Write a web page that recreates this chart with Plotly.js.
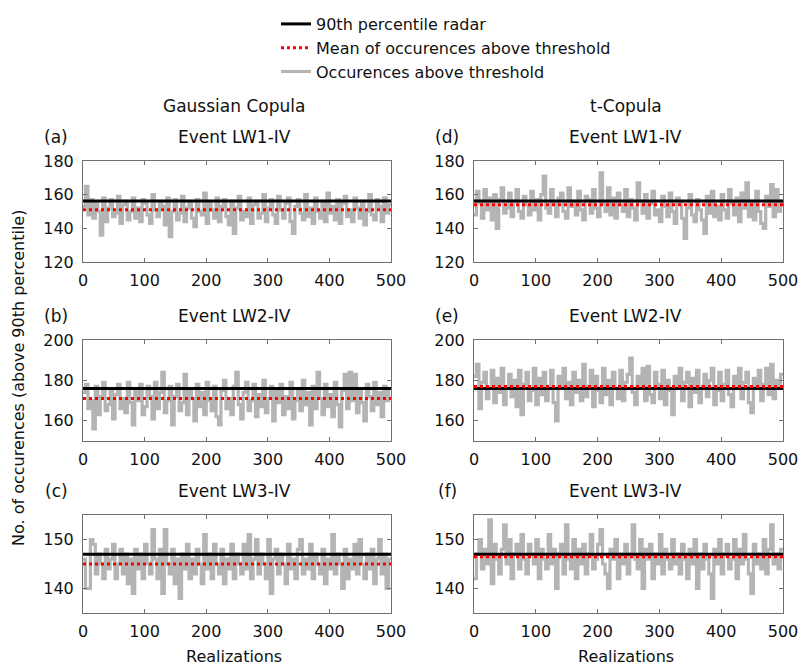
<!DOCTYPE html>
<html>
<head>
<meta charset="utf-8">
<script src="https://cdn.plot.ly/plotly-3.0.1.min.js"></script>
<style>html,body{margin:0;padding:0;background:#fff;}#chart{width:801px;height:668px;}</style>
</head>
<body>
<div id="chart"></div>
<script>
// Realizations sampled every 4 (index i -> realization 4*i)
const step = 4;
const nRealizations = 500;

// Panel (a) Gaussian Copula, Event LW1-IV
const occA = [153,165,148,157,146,155,150,136,158,144,
  152,157,147,149,159,143,154,156,145,150,
  158,146,152,144,157,155,148,143,160,151,
  147,156,153,142,158,135,150,157,145,149,
  159,144,152,156,146,141,157,150,148,161,
  143,155,151,146,158,144,153,157,147,142,
  156,137,152,159,145,150,147,158,143,154,
  156,146,149,160,144,152,157,148,143,159,
  151,146,155,158,144,137,153,157,149,145,
  160,147,152,143,158,150,146,156,144,161,
  149,153,145,157,143,155,159,147,151,144,
  158,152,146,156,142,150,160,148,145,157,
  153,144,158,149,154];
// Panel (b) Gaussian Copula, Event LW2-IV
const occB = [174,178,166,170,156,177,163,172,179,165,
  168,176,161,173,178,166,171,164,179,169,
  158,175,170,178,163,167,177,172,161,179,
  166,174,184,164,170,177,158,172,178,165,
  169,183,163,176,171,160,178,167,174,163,
  179,170,165,177,162,158,175,180,166,171,
  163,177,184,168,161,174,179,165,170,178,
  162,173,167,180,164,171,177,160,175,169,
  178,163,172,166,179,161,170,176,165,180,
  168,174,158,177,166,184,171,163,178,167,
  173,162,179,168,157,175,183,166,184,170,
  183,164,176,169,160,178,172,165,179,168,
  174,162,177,170,176];
// Panel (c) Gaussian Copula, Event LW3-IV
const occC = [146,140,140,150,149,143,147,145,142,148,
  144,146,149,142,145,148,143,147,141,146,
  139,148,144,147,142,149,145,143,152,146,
  142,148,139,152,145,143,148,141,146,138,
  147,144,149,142,146,143,148,145,141,151,
  144,147,142,149,145,143,148,141,146,144,
  149,142,147,145,143,149,144,151,142,146,
  150,143,147,145,142,150,139,146,148,143,
  147,145,141,149,144,146,142,148,150,143,
  146,144,149,142,147,145,143,148,141,146,
  144,151,143,147,145,140,148,142,146,144,
  149,143,150,145,142,147,144,148,141,146,
  150,143,147,140,146];
// Panel (d) t-Copula, Event LW1-IV
const occD = [148,162,155,146,163,151,158,145,160,140,
  157,164,149,152,161,147,156,163,150,146,
  159,154,148,162,151,157,145,160,171,152,
  149,163,155,147,158,161,150,146,164,153,
  156,148,162,151,145,159,157,149,163,152,
  147,173,155,150,164,148,158,146,161,154,
  150,163,147,157,152,145,167,156,149,160,
  146,155,162,148,151,144,159,153,147,161,
  150,143,158,155,146,134,152,160,148,144,
  157,151,145,137,159,149,162,147,153,145,
  160,151,146,163,155,148,158,144,161,152,
  167,147,156,145,162,150,143,140,159,153,
  166,147,163,150,156];
// Panel (e) t-Copula, Event LW2-IV
const occE = [182,188,166,179,184,171,176,185,169,181,
  174,186,168,177,183,172,180,167,185,163,
  178,184,170,175,186,168,181,173,184,170,
  177,185,169,160,182,176,186,171,179,168,
  184,174,180,170,188,172,177,185,167,182,
  175,169,186,173,180,168,184,176,171,185,
  170,179,183,191,174,168,182,177,186,170,
  187,173,169,184,178,171,185,168,180,175,
  163,182,176,186,170,179,184,167,181,174,
  185,169,177,183,172,180,186,168,175,184,
  170,178,185,173,167,182,176,186,171,179,
  184,169,164,181,176,185,170,178,186,173,
  188,171,180,176,183];
// Panel (f) t-Copula, Event LW3-IV
const occF = [142,147,150,144,148,145,154,141,149,146,
  143,148,153,145,150,142,147,149,144,151,
  146,143,149,147,145,150,142,148,146,144,
  151,145,148,140,147,149,143,153,146,144,
  150,142,148,145,149,143,147,151,144,146,
  149,152,145,143,140,148,146,150,142,147,
  145,149,143,147,153,146,144,150,140,148,
  146,149,142,147,145,151,143,148,146,144,
  150,145,147,143,149,146,142,148,145,150,
  140,147,144,149,146,143,138,148,145,150,
  143,147,149,144,146,150,142,148,145,151,
  146,143,139,149,145,147,144,150,143,148,
  153,145,147,144,148];

const thresholds = [156.3, 176, 147, 156.2, 176, 147];   // 90th percentile radar
const means      = [151, 171, 145, 154, 177, 146.5];     // mean of occurences above threshold
const panelLetters = ["(a)","(b)","(c)","(d)","(e)","(f)"];
const eventNames = ["Event LW1-IV","Event LW2-IV","Event LW3-IV","Event LW1-IV","Event LW2-IV","Event LW3-IV"];
const columnTitles = ["Gaussian Copula","t-Copula"];
const yRanges = [[120,180],[150,200],[135,155],[120,180],[150,200],[135,155]];
const yDticks = [20,20,10,20,20,10];
const xTickVals = [0,100,200,300,400,500];
const occurrences = [occA, occB, occC, occD, occE, occF];

const W = 801, H = 668;
const FONT = "DejaVu Sans, Liberation Sans, Arial, sans-serif";
// pixel boxes of the plot areas
const colX = [[83,391],[474,783]];
const rowY = [[161,262],[340,441],[515,613]];

const traces = [];
const layout = {
  width: W, height: H,
  margin: {l:0, r:0, t:0, b:0},
  paper_bgcolor: "#fff", plot_bgcolor: "#fff",
  showlegend: true,
  legend: {x: 276/W, y: 1 - 7/H, xanchor: "left", yanchor: "top",
    font: {family: FONT, size: 16, color: "#111"}, bgcolor: "rgba(0,0,0,0)",
    traceorder: "normal", itemwidth: 30, tracegroupgap: 0},
  annotations: [],
  font: {family: FONT, color: "#111"}
};

for (let p = 0; p < 6; p++) {
  const col = Math.floor(p / 3), row = p % 3;
  const n = p + 1;
  const xa = "x" + (n === 1 ? "" : n), ya = "y" + (n === 1 ? "" : n);
  const vals = occurrences[p];
  const xs = vals.map((v, i) => i * step);
  const ys = vals.slice();
  xs.push(nRealizations); ys.push(vals[vals.length - 1]);

  traces.push({x: xs, y: ys, xaxis: xa, yaxis: ya, type: "scatter", mode: "lines",
    line: {shape: "hv", color: "#b4b4b4", width: 3.2},
    name: "Occurences above threshold", legendgroup: "occ", legendrank: 3, showlegend: p === 0, hoverinfo: "skip"});
  traces.push({x: [0, nRealizations], y: [thresholds[p], thresholds[p]], xaxis: xa, yaxis: ya, type: "scatter", mode: "lines",
    line: {color: "#000", width: 3},
    name: "90th percentile radar", legendgroup: "thr", legendrank: 1, showlegend: p === 0});
  traces.push({x: [0, nRealizations], y: [means[p], means[p]], xaxis: xa, yaxis: ya, type: "scatter", mode: "lines",
    line: {color: "#ff0000", width: 3, dash: "dot"},
    name: "Mean of occurences above threshold", legendgroup: "mean", legendrank: 2, showlegend: p === 0});

  const axCommon = {showline: true, mirror: "ticks", linecolor: "#707070", linewidth: 1,
    ticks: "inside", ticklen: 4, tickcolor: "#707070", showgrid: false, zeroline: false,
    tickfont: {family: FONT, size: 16, color: "#111"}, fixedrange: true};
  layout["xaxis" + (n === 1 ? "" : n)] = Object.assign({}, axCommon, {
    domain: [colX[col][0] / W, colX[col][1] / W], anchor: ya,
    range: [0, nRealizations], tickvals: xTickVals, ticklabelstandoff: 4});
  layout["yaxis" + (n === 1 ? "" : n)] = Object.assign({}, axCommon, {
    domain: [1 - rowY[row][1] / H, 1 - rowY[row][0] / H], anchor: xa,
    range: yRanges[p], dtick: yDticks[p], tick0: 0, ticklabelstandoff: 5});

  const cx = (colX[col][0] + colX[col][1]) / 2;
  const titleY = rowY[row][0] - 24;
  layout.annotations.push({text: eventNames[p], xref: "paper", yref: "paper",
    x: (cx - 3) / W, y: 1 - titleY / H, showarrow: false, xanchor: "center", yanchor: "middle",
    font: {family: FONT, size: 17, color: "#111"}});
  layout.annotations.push({text: panelLetters[p], xref: "paper", yref: "paper",
    x: (colX[col][0] - 27) / W, y: 1 - titleY / H, showarrow: false, xanchor: "center", yanchor: "middle",
    font: {family: FONT, size: 17, color: "#111"}});
  if (row === 0) {
    layout.annotations.push({text: columnTitles[col], xref: "paper", yref: "paper",
      x: (cx - 3) / W, y: 1 - 106 / H, showarrow: false, xanchor: "center", yanchor: "middle",
      font: {family: FONT, size: 17, color: "#111"}});
  }
  if (row === 2) {
    layout.annotations.push({text: "Realizations", xref: "paper", yref: "paper",
      x: (cx - 3) / W, y: 1 - 656 / H, showarrow: false, xanchor: "center", yanchor: "middle",
      font: {family: FONT, size: 16, color: "#111"}});
  }
}
layout.annotations.push({text: "No. of occurences (above 90th percentile)", xref: "paper", yref: "paper",
  x: 18 / W, y: 1 - 378 / H, showarrow: false, textangle: -90, xanchor: "center", yanchor: "middle",
  font: {family: FONT, size: 16, color: "#111"}});

Plotly.newPlot("chart", traces, layout, {staticPlot: true, displayModeBar: false});
</script>
</body>
</html>
